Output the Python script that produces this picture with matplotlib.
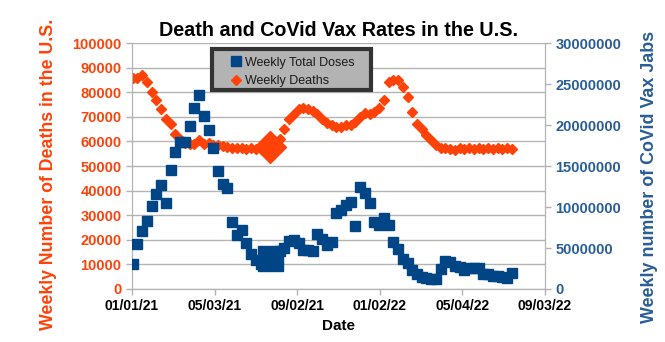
import matplotlib
matplotlib.use("Agg")
import matplotlib.pyplot as plt
import matplotlib.dates as mdates
from matplotlib.patches import Rectangle
import pandas as pd

# weekly values
start_date = "2021-01-02"
weekly_deaths = [
    86000, 86000, 87000, 84000, 80000, 77000, 73000, 69000, 67000, 63000,
    61000, 59500, 59000, 59000, 60500, 59000, 59500, 58500, 58500, 58000,
    57700, 57500, 57200, 57300, 57000, 57300, 57000, 57500, 57500, 57700,
    59000, 61000, 65000, 69000, 71000, 73000, 73500, 73000, 72500, 71000,
    69000, 67500, 66500, 66000, 66000, 66500, 66500, 68000, 70000, 71500,
    71000, 72000, 73500, 77000, 84000, 85000, 85000, 82000, 78000, 72000,
    67000, 65000, 62500, 60500, 58500, 57500, 57300, 57000, 56500, 57300,
    57000, 57500, 57000, 57300, 56800, 57500, 57000, 57300, 57000, 57200,
    57000,
]
weekly_doses = [
    3.05, 5.5, 7.1, 8.3, 10.1, 11.6, 12.7, 10.5, 14.5, 16.7,
    17.9, 17.9, 19.9, 22.1, 23.7, 21.1, 19.4, 17.2, 14.4, 12.8,
    12.3, 8.2, 6.6, 7.2, 5.6, 4.3, 3.5, 3.0, 3.2, 3.8,
    4.2, 4.6, 5.0, 5.85, 6.0, 5.6, 4.75, 4.75, 4.6, 6.7,
    6.1, 5.4, 5.7, 9.3, 9.6, 10.2, 10.6, 7.7, 12.4, 11.7,
    10.5, 8.2, 7.8, 8.7, 7.8, 5.7, 4.9, 3.7, 3.2, 2.3,
    1.8, 1.5, 1.3, 1.2, 1.2, 2.4, 3.4, 3.3, 2.8, 2.7,
    2.3, 2.6, 2.6, 2.6, 1.8, 1.8, 1.6, 1.6, 1.5, 1.3,
    1.95,
]
weekly_doses = [d * 1e6 for d in weekly_doses]
highlight_week = 29  # drawn with an enlarged marker in the original

x_ticks = ["2021-01-01", "2021-05-03", "2021-09-02", "2022-01-02", "2022-05-04", "2022-09-03"]
left_ticks = list(range(0, 100001, 10000))
right_ticks = list(range(0, 30000001, 5000000))

DEATH_C = "#ff4208"
DOSE_C = "#004586"
RIGHT_TXT = "#2a5d96"
GRID_C = "#b3b3b3"

plt.rcParams["font.family"] = ["Liberation Sans", "DejaVu Sans"]
plt.rcParams["font.weight"] = "bold"

dates = pd.date_range(start_date, periods=len(weekly_deaths), freq="7D")
tick_dates = pd.to_datetime(x_ticks)

fig = plt.figure(figsize=(6.65, 3.42), dpi=100)
ax = fig.add_axes([0.1985, 0.155, 0.621, 0.719])
ax2 = ax.twinx()

ax.plot(dates, weekly_deaths, "D", color=DEATH_C, ms=5.5, mec=DEATH_C, zorder=3)
ax.plot(dates[highlight_week], weekly_deaths[highlight_week], "D",
        color=DEATH_C, ms=16, zorder=3)
ax2.plot(dates, weekly_doses, "s", color=DOSE_C, ms=7.3, zorder=3)
ax2.plot(dates[highlight_week], weekly_doses[highlight_week], "s",
         color=DOSE_C, ms=18, zorder=3)

ax.set_xlim(tick_dates[0], tick_dates[-1])
ax.set_xticks(tick_dates)
ax.xaxis.set_major_formatter(mdates.DateFormatter("%m/%d/%y"))
ax.set_ylim(0, 100000)
ax.set_yticks(left_ticks)
ax2.set_ylim(0, 30000000)
ax2.set_yticks(right_ticks)
ax2.set_yticklabels([str(v) for v in right_ticks])
ax.set_yticklabels([str(v) for v in left_ticks])

ax.grid(axis="y", color=GRID_C, lw=1)
ax.set_axisbelow(True)
for a in (ax, ax2):
    a.spines["top"].set_visible(False)
    for s in ("left", "right", "bottom"):
        a.spines[s].set_color(GRID_C)
    a.tick_params(colors=GRID_C, length=4, width=1)

ax.tick_params(axis="x", labelcolor="black", labelsize=10)
ax.tick_params(axis="y", labelcolor=DEATH_C, labelsize=10.5)
ax2.tick_params(axis="y", labelcolor=RIGHT_TXT, labelsize=10.5)

ax.set_xlabel("Date", fontsize=11, fontweight="bold", labelpad=4)
ax.set_ylabel("Weekly Number of Deaths in the U.S.", fontsize=12.75,
              color=DEATH_C, fontweight="bold", labelpad=11)
ax2.set_ylabel("Weekly number of CoVid Vax Jabs", fontsize=12.9,
               color=RIGHT_TXT, fontweight="bold", labelpad=14)
ax.yaxis.label.set_y(0.467)
ax2.yaxis.label.set_y(0.455)
ax.set_title("Death and CoVid Vax Rates in the U.S.", fontsize=14.2,
             fontweight="bold", pad=5)

# legend box drawn by hand so its padding matches the original
box = Rectangle((0.194, 0.809), 0.385, 0.167, transform=ax2.transAxes,
                facecolor="#b3b3b3", edgecolor="#333333", lw=3, zorder=4.5)
ax2.add_patch(box)
h_dose = plt.Line2D([], [], ls="none", marker="s", color=DOSE_C, ms=7)
h_death = plt.Line2D([], [], ls="none", marker="D", color=DEATH_C, ms=5.5)
leg = ax2.legend([h_dose, h_death], ["Weekly Total Doses", "Weekly Deaths"],
                 loc="upper left", bbox_to_anchor=(0.232, 0.945),
                 borderaxespad=0, borderpad=0, frameon=False,
                 handlelength=1.3, handletextpad=0.05, labelspacing=0.55,
                 prop={"family": ["Liberation Sans"], "weight": "normal", "size": 9})
for t in leg.get_texts():
    t.set_color("#1a1a1a")

fig.savefig("out.png", dpi=100)
